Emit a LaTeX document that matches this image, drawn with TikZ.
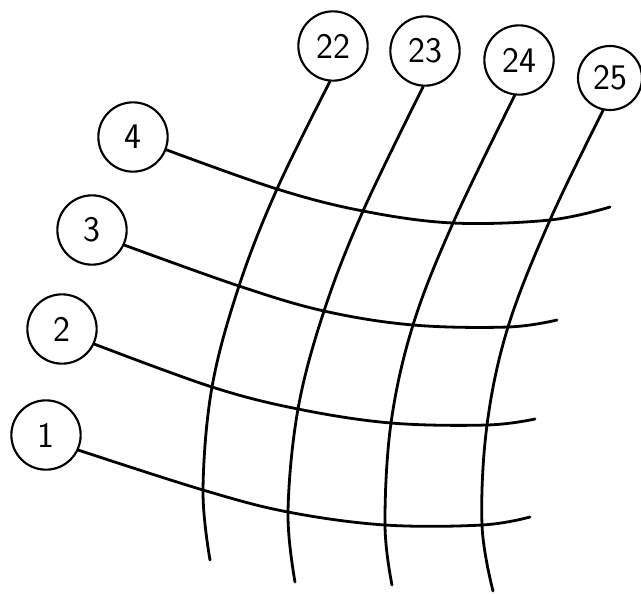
\documentclass[tikz,border=0pt]{standalone}
\usepackage{tikz}

\begin{document}
\begin{tikzpicture}[x=0.75pt,y=-0.75pt,
    num/.style={draw,circle,line width=1.6pt,minimum size=52pt,inner sep=0pt,
      font=\sffamily\fontsize{27}{27}\selectfont},
    wire/.style={line width=2.1pt,line cap=round}]
  \useasboundingbox (0,0) rectangle (641,593);
  % row and column labels
  \node[num] (r4) at (133,137) {4};
  \node[num] (r3) at (92,230) {3};
  \node[num] (r2) at (62,329) {2};
  \node[num] (r1) at (46,435) {1};
  \node[num] (c22) at (333,46) {22};
  \node[num] (c23) at (425,51) {23};
  \node[num] (c24) at (519,60) {24};
  \node[num,minimum size=48pt] (c25) at (610,78) {25};
  % crossings
  \coordinate (p4-22) at (277,189); \coordinate (p4-23) at (363,211);
  \coordinate (p4-24) at (453,223); \coordinate (p4-25) at (550,220);
  \coordinate (p3-22) at (239,286); \coordinate (p3-23) at (324,311);
  \coordinate (p3-24) at (413,325); \coordinate (p3-25) at (508,327);
  \coordinate (p2-22) at (212,387); \coordinate (p2-23) at (298,409);
  \coordinate (p2-24) at (391,423); \coordinate (p2-25) at (487,425);
  \coordinate (p1-22) at (203,490); \coordinate (p1-23) at (288,512);
  \coordinate (p1-24) at (385,525); \coordinate (p1-25) at (482,525);
  % free ends
  \coordinate (e4) at (610,207); \coordinate (e3) at (557,320);
  \coordinate (e2) at (535,419); \coordinate (e1) at (530,517);
  \coordinate (e22) at (210,560); \coordinate (e23) at (295,582);
  \coordinate (e24) at (392,585); \coordinate (e25) at (493,591);
  % rows
  \draw[wire] plot[smooth,tension=0.6] coordinates
    {(r4.-21) (p4-22) (p4-23) (p4-24) (p4-25) (e4)};
  \foreach \r in {3,2,1}{
    \draw[wire] plot[smooth,tension=0.6] coordinates
      {(r\r.-25) (p\r-22) (p\r-23) (p\r-24) (p\r-25) (e\r)};
  }
  % columns
  \draw[wire] plot[smooth,tension=0.6] coordinates
    {(c22.-95) (p4-22) (p3-22) (p2-22) (p1-22) (e22)};
  \draw[wire] plot[smooth,tension=0.6] coordinates
    {(c23.-93) (p4-23) (p3-23) (p2-23) (p1-23) (e23)};
  \draw[wire] plot[smooth,tension=0.6] coordinates
    {(c24.-97) (p4-24) (p3-24) (p2-24) (p1-24) (e24)};
  \draw[wire] plot[smooth,tension=0.6] coordinates
    {(c25.-102) (p4-25) (p3-25) (p2-25) (p1-25) (e25)};
\end{tikzpicture}
\end{document}
